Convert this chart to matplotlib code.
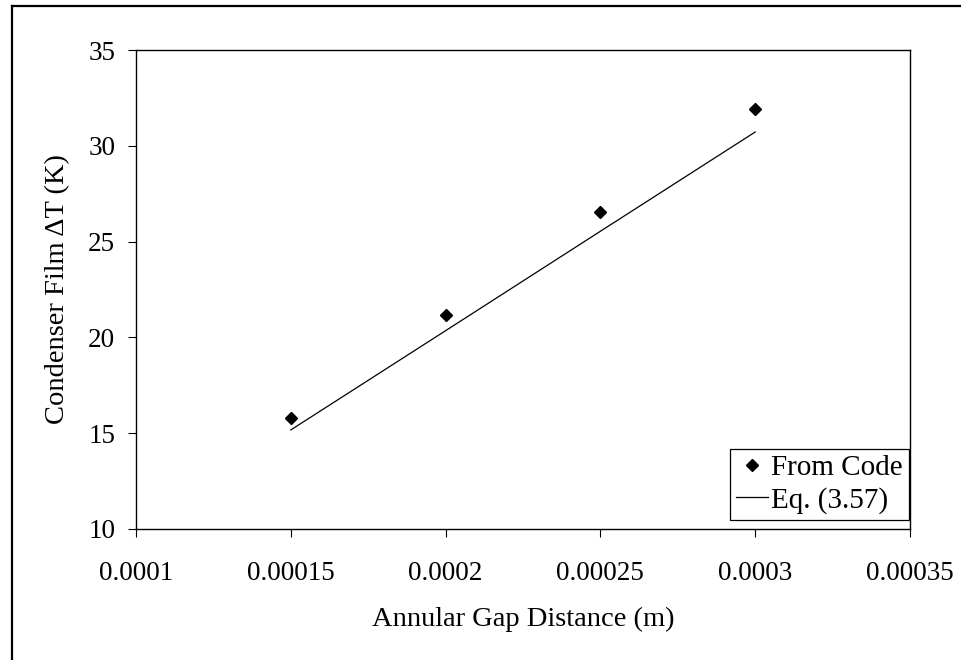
import matplotlib
matplotlib.use('Agg')
import matplotlib.pyplot as plt
from matplotlib.lines import Line2D

plt.rcParams['font.family'] = ['Liberation Serif', 'DejaVu Serif']

# data
gap = [0.00015, 0.0002, 0.00025, 0.0003]
from_code = [15.8, 21.15, 26.55, 31.9]
eq_357 = [15.17, 20.35, 25.54, 30.72]

xticks = [0.0001, 0.00015, 0.0002, 0.00025, 0.0003, 0.00035]
xtick_labels = ['0.0001', '0.00015', '0.0002', '0.00025', '0.0003', '0.00035']
yticks = [10, 15, 20, 25, 30, 35]

W, H = 961, 660
fig = plt.figure(figsize=(W / 100, H / 100), dpi=100)
ax = fig.add_axes([136 / W, 1 - 529 / H, 774 / W, 479 / H])

ax.plot(gap, eq_357, color='black', lw=0.9, label='Eq. (3.57)')
ax.plot(gap, from_code, ls='none', marker='D', ms=6.6, color='black', label='From Code')

ax.set_xlim(0.0001, 0.00035)
ax.set_ylim(10, 35)
ax.set_xticks(xticks)
ax.set_xticklabels(xtick_labels)
ax.set_yticks(yticks)
ax.tick_params(direction='out', length=6, width=0.8, labelsize=19.5, top=False, right=False)
ax.tick_params(axis='y', pad=9)
ax.tick_params(axis='x', pad=17)
for s in ax.spines.values():
    s.set_linewidth(1.0)
    s.set_color('black')

ax.set_xlabel('Annular Gap Distance (m)', fontsize=20.5, labelpad=15)
ax.set_ylabel('Condenser Film \u0394T (K)', fontsize=20.5, labelpad=13)

# legend: marker first, then the line
h, l = ax.get_legend_handles_labels()
leg = ax.legend(h[::-1], l[::-1], loc='lower right', bbox_to_anchor=(909 / W, 1 - 520 / H),
                bbox_transform=fig.transFigure, borderaxespad=0, fancybox=False,
                edgecolor='black', framealpha=1, fontsize=21, handlelength=1.1,
                handletextpad=0.1, borderpad=0.22, labelspacing=0.18)
leg.get_frame().set_linewidth(0.9)

# outer chart border (left and top edges visible)
fig.add_artist(Line2D([12 / W, 12 / W], [0, 1 - 6 / H], color='black', lw=1.6,
                      transform=fig.transFigure))
fig.add_artist(Line2D([12 / W, 1], [1 - 6 / H, 1 - 6 / H], color='black', lw=1.6,
                      transform=fig.transFigure))

fig.savefig('out.png', dpi=100)
